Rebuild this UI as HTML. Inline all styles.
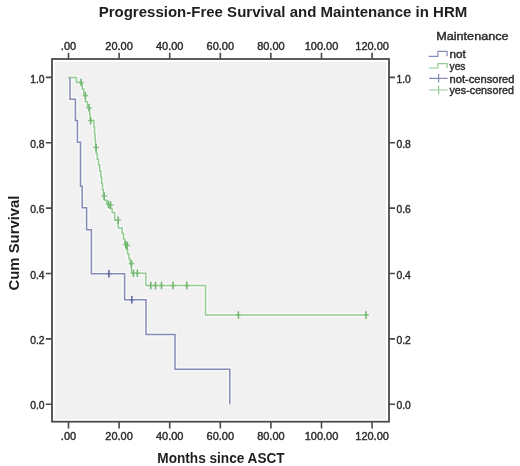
<!DOCTYPE html>
<html><head><meta charset="utf-8"><style>
html,body{margin:0;padding:0;background:#fff;}
svg{display:block;will-change:transform;font-family:"Liberation Sans",sans-serif;}
</style></head><body>
<svg width="520" height="466" viewBox="0 0 520 466">
<rect width="520" height="466" fill="#fff"/>
<text x="98.7" y="17" font-size="15.5" font-weight="bold" fill="#1e1e1e" textLength="368.6" lengthAdjust="spacingAndGlyphs">Progression-Free Survival and Maintenance in HRM</text>
<rect x="55" y="62" width="331" height="357" fill="#f1f1f1"/>
<polyline points="68.50,77.40 70.00,77.40 70.00,99.20 75.40,99.20 75.40,120.60 77.40,120.60 77.40,142.20 80.50,142.20 80.50,186.20 82.20,186.20 82.20,207.80 86.60,207.80 86.60,229.80 91.40,229.80 91.40,273.70 124.60,273.70 124.60,299.80 146.00,299.80 146.00,334.40 175.00,334.40 175.00,369.30 229.80,369.30 229.80,404.30" fill="none" stroke="#f9f9fc" stroke-width="4"/>
<polyline points="68.50,77.40 76.40,77.40 76.40,82.40 82.30,82.40 82.30,89.00 83.85,89.00 83.85,95.60 85.40,95.60 85.40,101.70 87.55,101.70 87.55,107.80 89.70,107.80 89.70,114.20 90.20,114.20 90.20,120.60 90.70,120.60 94.00,120.60 94.00,127.32 94.53,127.32 94.53,134.05 95.05,134.05 95.05,140.78 95.57,140.78 95.57,147.50 96.10,147.50 96.10,153.38 97.30,153.38 97.30,159.25 98.50,159.25 98.50,165.12 99.70,165.12 99.70,171.00 100.90,171.00 100.90,177.25 101.73,177.25 101.73,183.50 102.55,183.50 102.55,189.75 103.38,189.75 103.38,196.00 104.20,196.00 104.20,200.15 106.90,200.15 106.90,204.30 109.60,204.30 109.60,208.40 112.15,208.40 112.15,212.50 114.70,212.50 114.70,220.20 118.20,220.20 118.20,228.00 119.40,228.00 122.20,228.00 122.20,233.50 123.53,233.50 123.53,239.00 124.87,239.00 124.87,244.50 126.20,244.50 126.20,249.25 127.60,249.25 127.60,254.00 129.00,254.00 129.00,258.75 130.10,258.75 130.10,263.50 131.20,263.50 131.20,268.40 131.50,268.40 131.50,273.30 131.80,273.30 145.90,273.30 145.90,285.50 205.50,285.50 205.50,315.00 368.50,315.00" fill="none" stroke="#f9fcf9" stroke-width="4"/>
<polyline points="68.50,77.40 70.00,77.40 70.00,99.20 75.40,99.20 75.40,120.60 77.40,120.60 77.40,142.20 80.50,142.20 80.50,186.20 82.20,186.20 82.20,207.80 86.60,207.80 86.60,229.80 91.40,229.80 91.40,273.70 124.60,273.70 124.60,299.80 146.00,299.80 146.00,334.40 175.00,334.40 175.00,369.30 229.80,369.30 229.80,404.30" fill="none" stroke="#868bb5" stroke-width="1.5"/>
<polyline points="68.50,77.40 76.40,77.40 76.40,82.40 82.30,82.40 82.30,89.00 83.85,89.00 83.85,95.60 85.40,95.60 85.40,101.70 87.55,101.70 87.55,107.80 89.70,107.80 89.70,114.20 90.20,114.20 90.20,120.60 90.70,120.60 94.00,120.60 94.00,127.32 94.53,127.32 94.53,134.05 95.05,134.05 95.05,140.78 95.57,140.78 95.57,147.50 96.10,147.50 96.10,153.38 97.30,153.38 97.30,159.25 98.50,159.25 98.50,165.12 99.70,165.12 99.70,171.00 100.90,171.00 100.90,177.25 101.73,177.25 101.73,183.50 102.55,183.50 102.55,189.75 103.38,189.75 103.38,196.00 104.20,196.00 104.20,200.15 106.90,200.15 106.90,204.30 109.60,204.30 109.60,208.40 112.15,208.40 112.15,212.50 114.70,212.50 114.70,220.20 118.20,220.20 118.20,228.00 119.40,228.00 122.20,228.00 122.20,233.50 123.53,233.50 123.53,239.00 124.87,239.00 124.87,244.50 126.20,244.50 126.20,249.25 127.60,249.25 127.60,254.00 129.00,254.00 129.00,258.75 130.10,258.75 130.10,263.50 131.20,263.50 131.20,268.40 131.50,268.40 131.50,273.30 131.80,273.30 145.90,273.30 145.90,285.50 205.50,285.50 205.50,315.00 368.50,315.00" fill="none" stroke="#93c992" stroke-width="1.5"/>
<g stroke="#868bb5" stroke-width="1.6" fill="none"><path d="M106.10 273.70H111.70" /><path d="M129.00 299.80H134.60" /></g><g stroke="#5d6399" stroke-width="1.5" fill="none"><path d="M108.90 270.00V277.40" /><path d="M131.80 296.10V303.50" /></g>
<g stroke="#93c992" stroke-width="1.6" fill="none"><path d="M78.20 82.40H83.80" /><path d="M82.60 95.60H88.20" /><path d="M86.20 107.80H91.80" /><path d="M87.90 120.60H93.50" /><path d="M93.30 147.50H98.90" /><path d="M101.40 196.00H107.00" /><path d="M105.60 204.30H111.20" /><path d="M107.80 205.00H113.40" /><path d="M115.40 220.20H121.00" /><path d="M123.00 244.50H128.60" /><path d="M124.40 245.50H130.00" /><path d="M128.70 263.60H134.30" /><path d="M130.60 273.30H136.20" /><path d="M134.50 273.30H140.10" /><path d="M148.00 285.50H153.60" /><path d="M152.70 285.50H158.30" /><path d="M158.70 285.50H164.30" /><path d="M170.20 285.50H175.80" /><path d="M184.00 285.50H189.60" /><path d="M235.60 315.00H241.20" /><path d="M363.20 315.00H368.80" /></g><g stroke="#6db36b" stroke-width="1.5" fill="none"><path d="M81.00 78.70V86.10" /><path d="M85.40 91.90V99.30" /><path d="M89.00 104.10V111.50" /><path d="M90.70 116.90V124.30" /><path d="M96.10 143.80V151.20" /><path d="M104.20 192.30V199.70" /><path d="M108.40 200.60V208.00" /><path d="M110.60 201.30V208.70" /><path d="M118.20 216.50V223.90" /><path d="M125.80 240.80V248.20" /><path d="M127.20 241.80V249.20" /><path d="M131.50 259.90V267.30" /><path d="M133.40 269.60V277.00" /><path d="M137.30 269.60V277.00" /><path d="M150.80 281.80V289.20" /><path d="M155.50 281.80V289.20" /><path d="M161.50 281.80V289.20" /><path d="M173.00 281.80V289.20" /><path d="M186.80 281.80V289.20" /><path d="M238.40 311.30V318.70" /><path d="M366.00 311.30V318.70" /></g>
<rect x="52" y="59" width="337" height="362.7" fill="none" stroke="#4a4a4a" stroke-width="1.8"/>
<g stroke="#4a4a4a" stroke-width="1.6"><path d="M68.50 59V52.8M68.50 421.7V428.5"/><path d="M119.10 59V52.8M119.10 421.7V428.5"/><path d="M169.70 59V52.8M169.70 421.7V428.5"/><path d="M220.30 59V52.8M220.30 421.7V428.5"/><path d="M270.90 59V52.8M270.90 421.7V428.5"/><path d="M321.50 59V52.8M321.50 421.7V428.5"/><path d="M372.10 59V52.8M372.10 421.7V428.5"/><path d="M52 404.30H45.8M389 404.30H395"/><path d="M52 338.92H45.8M389 338.92H395"/><path d="M52 273.54H45.8M389 273.54H395"/><path d="M52 208.16H45.8M389 208.16H395"/><path d="M52 142.78H45.8M389 142.78H395"/><path d="M52 77.40H45.8M389 77.40H395"/></g>
<g font-size="11" fill="#2a2a2a" stroke="#2a2a2a" stroke-width="0.4"><text x="68.50" y="49.8" text-anchor="middle">.00</text><text x="68.50" y="440" text-anchor="middle">.00</text><text x="119.10" y="49.8" text-anchor="middle">20.00</text><text x="119.10" y="440" text-anchor="middle">20.00</text><text x="169.70" y="49.8" text-anchor="middle">40.00</text><text x="169.70" y="440" text-anchor="middle">40.00</text><text x="220.30" y="49.8" text-anchor="middle">60.00</text><text x="220.30" y="440" text-anchor="middle">60.00</text><text x="270.90" y="49.8" text-anchor="middle">80.00</text><text x="270.90" y="440" text-anchor="middle">80.00</text><text x="321.50" y="49.8" text-anchor="middle">100.00</text><text x="321.50" y="440" text-anchor="middle">100.00</text><text x="372.10" y="49.8" text-anchor="middle">120.00</text><text x="372.10" y="440" text-anchor="middle">120.00</text><text x="44.6" y="409.40" text-anchor="end" textLength="14.4" lengthAdjust="spacingAndGlyphs">0.0</text><text x="396.4" y="409.40" textLength="14.4" lengthAdjust="spacingAndGlyphs">0.0</text><text x="44.6" y="344.02" text-anchor="end" textLength="14.4" lengthAdjust="spacingAndGlyphs">0.2</text><text x="396.4" y="344.02" textLength="14.4" lengthAdjust="spacingAndGlyphs">0.2</text><text x="44.6" y="278.64" text-anchor="end" textLength="14.4" lengthAdjust="spacingAndGlyphs">0.4</text><text x="396.4" y="278.64" textLength="14.4" lengthAdjust="spacingAndGlyphs">0.4</text><text x="44.6" y="213.26" text-anchor="end" textLength="14.4" lengthAdjust="spacingAndGlyphs">0.6</text><text x="396.4" y="213.26" textLength="14.4" lengthAdjust="spacingAndGlyphs">0.6</text><text x="44.6" y="147.88" text-anchor="end" textLength="14.4" lengthAdjust="spacingAndGlyphs">0.8</text><text x="396.4" y="147.88" textLength="14.4" lengthAdjust="spacingAndGlyphs">0.8</text><text x="44.6" y="82.50" text-anchor="end" textLength="14.4" lengthAdjust="spacingAndGlyphs">1.0</text><text x="396.4" y="82.50" textLength="14.4" lengthAdjust="spacingAndGlyphs">1.0</text></g>
<text transform="translate(19.3,243) rotate(-90)" text-anchor="middle" font-size="14" font-weight="bold" fill="#1e1e1e" textLength="95" lengthAdjust="spacingAndGlyphs">Cum Survival</text>
<text x="157.3" y="462.5" font-size="14.3" font-weight="bold" fill="#1e1e1e" textLength="127.4" lengthAdjust="spacingAndGlyphs">Months since ASCT</text>
<text x="436.3" y="40.4" font-size="11" fill="#2a2a2a" stroke="#2a2a2a" stroke-width="0.4" textLength="72.2" lengthAdjust="spacingAndGlyphs">Maintenance</text>
<g font-size="11" fill="#2a2a2a" stroke="#2a2a2a" stroke-width="0.4">
<text x="449.5" y="58.4" textLength="16.3" lengthAdjust="spacingAndGlyphs">not</text>
<text x="449.5" y="70.3" textLength="16" lengthAdjust="spacingAndGlyphs">yes</text>
<text x="449.5" y="82.6" textLength="65" lengthAdjust="spacingAndGlyphs">not-censored</text>
<text x="449.5" y="94.4" textLength="64.4" lengthAdjust="spacingAndGlyphs">yes-censored</text>
</g>
<path d="M428.8 56.3H437.9V51.3H447.1V56.3" fill="none" stroke="#868bb5" stroke-width="1.2"/>
<path d="M428.8 68H437.9V63.7H447.1V68" fill="none" stroke="#93c992" stroke-width="1.2"/>
<path d="M429.2 78.3H447.6M438.6 74V82.6" fill="none" stroke="#868bb5" stroke-width="1.2"/>
<path d="M429.2 90H447.6M438.6 85.7V94.3" fill="none" stroke="#93c992" stroke-width="1.2"/>
</svg>
</body></html>
